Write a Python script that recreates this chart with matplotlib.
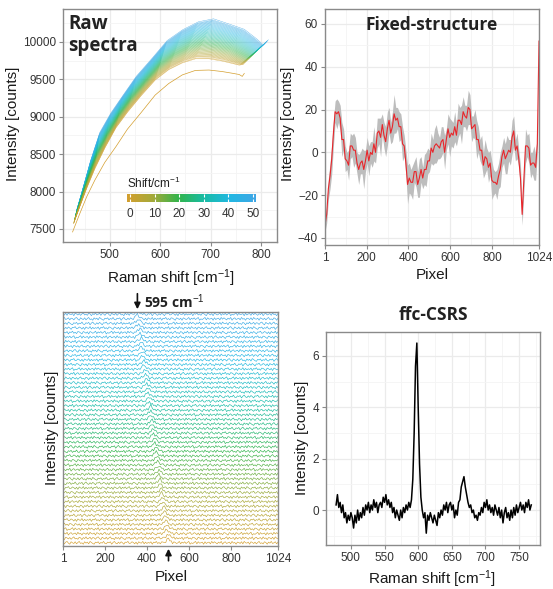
import numpy as np
import matplotlib
matplotlib.use('Agg')
import matplotlib.pyplot as plt
from matplotlib.colors import LinearSegmentedColormap
from matplotlib.ticker import MultipleLocator, FixedLocator

plt.rcParams['font.family'] = ['Liberation Sans', 'DejaVu Sans']
plt.rcParams['mathtext.fontset'] = 'custom'
plt.rcParams['mathtext.rm'] = 'Liberation Sans'
plt.rcParams['mathtext.it'] = 'Liberation Sans:italic'
plt.rcParams['mathtext.bf'] = 'Liberation Sans:bold'

# ---------------- data ----------------
# shift steps (cm-1) of the raw spectra
shifts = list(range(0, 51))

# raw spectrum for shift 0 (the separated lowest trace)
raw0_x = [426, 440, 454, 470, 490, 512, 535, 562, 590, 617, 644, 670, 697, 723, 745, 757, 763, 767]
raw0_y = [7460, 7700, 7930, 8150, 8390, 8600, 8835, 9055, 9290, 9445, 9560, 9620, 9625, 9605, 9580, 9565, 9540, 9580]

# lower and upper edge of the bundle (shift 1 and shift 50)
raw_lo_x = [428, 440, 454, 470, 490, 512, 535, 562, 590, 617, 644, 670, 697, 723, 745, 757, 765]
raw_lo_y = [7570, 7790, 8040, 8300, 8580, 8850, 9060, 9280, 9490, 9630, 9720, 9775, 9775, 9745, 9710, 9690, 9700]
raw_hi_x = [435, 448, 462, 480, 502, 527, 553, 583, 614, 645, 676, 706, 737, 767, 792, 805, 815]
raw_hi_y = [7770, 8080, 8420, 8790, 9050, 9295, 9545, 9775, 10020, 10165, 10270, 10310, 10240, 10170, 10040, 9960, 10030]
# position of each trace (shift 1..50) inside the bundle
raw_pos = [0.00, 0.02, 0.05, 0.07, 0.09, 0.11, 0.13, 0.15, 0.17, 0.19,
           0.21, 0.23, 0.25, 0.27, 0.29, 0.31, 0.33, 0.35, 0.37, 0.39,
           0.41, 0.43, 0.45, 0.47, 0.49, 0.51, 0.53, 0.55, 0.57, 0.59,
           0.61, 0.63, 0.65, 0.67, 0.69, 0.71, 0.73, 0.75, 0.77, 0.79,
           0.81, 0.83, 0.85, 0.87, 0.89, 0.91, 0.93, 0.95, 0.97, 1.00]

# fixed-structure estimate (red) and spread of the gray band, 128 pixels
fixed_red = [-34, -29, -17, -11, -3, 9, 19, 18, 19, 16, 6, 6, -3, -4, -6, 3,
             3, 1, 1, -5, -8, -5, -4, -8, -4, 1, -4, 0, -1, 4, 0, 9,
             10, 7, 13, 8, 5, 11, 15, 9, 12, 18, 15, 16, 12, 12, 4, 3,
             -5, -15, -12, -14, -14, -9, -9, -15, -12, -8, -12, -8, -8, -4, -4, 2,
             0, 3, 4, 3, 2, 5, 6, 0, 6, 11, 7, 9, 8, 12, 8, 15,
             15, 13, 19, 17, 16, 21, 20, 11, 12, 13, 6, 6, 1, 1, -6, -2,
             -3, -7, -5, -13, -14, -14, -15, -11, -8, -2, 1, -3, -1, 1, 0, 7,
             10, 1, 3, -3, -12, -29, -13, 3, 3, 2, -6, -5, -5, -7, 4, 52]
fixed_spread = [3, 4, 5, 6, 7, 6, 5, 7, 5, 6, 8, 5, 6, 4, 7, 6,
                5, 8, 6, 5, 7, 5, 6, 9, 5, 6, 7, 5, 6, 8, 5, 7,
                6, 9, 5, 6, 7, 8, 6, 5, 7, 9, 6, 5, 7, 6, 8, 5,
                6, 9, 7, 6, 8, 5, 7, 6, 9, 6, 5, 7, 8, 6, 5, 7,
                6, 8, 9, 6, 5, 7, 6, 8, 5, 7, 9, 6, 6, 7, 5, 8,
                6, 9, 7, 5, 6, 8, 7, 6, 5, 7, 9, 6, 5, 7, 6, 8,
                5, 7, 6, 9, 6, 5, 7, 6, 8, 5, 6, 7, 9, 5, 6, 8,
                7, 5, 6, 4, 6, 5, 6, 8, 5, 7, 6, 5, 8, 6, 5, 6]

# ffc-CSRS spectrum, 478..768 cm-1 every 2 cm-1
ffc_x = list(range(478, 769, 2))
ffc_y = [0.2, 0.6, 0.1, 0.3, -0.1, 0.2, -0.3, -0.1, -0.5, -0.2,
         -0.4, -0.1, -0.3, -0.7, -0.2, -0.5, 0.0, -0.4, -0.1, -0.3,
         0.1, -0.2, 0.2, 0.0, 0.3, -0.1, 0.2, 0.0, 0.4, 0.1,
         0.3, -0.1, 0.2, 0.3, 0.1, 0.5, 0.3, 0.6, 0.2, 0.4,
         0.1, 0.3, -0.1, 0.1, -0.3, 0.0, -0.2, -0.4, 0.0, -0.3,
         0.1, -0.1, 0.2, 0.0, 0.3, 0.1, 0.4, 1.2, 3.0, 5.6,
         6.5, 4.0, 1.8, 0.5, 0.0, -0.3, -0.1, -0.9, -0.2, -0.4,
         -0.1, -0.3, -0.5, -0.2, -0.4, -0.6, -0.1, -0.3, 0.0, -0.2,
         0.2, 0.0, 0.3, -0.1, 0.2, 0.3, 0.0, 0.2, -0.3, 0.0,
         -0.2, 0.3, 0.4, 0.9, 1.1, 1.3, 0.9, 0.6, 0.3, 0.1,
         0.2, -0.1, 0.0, -0.3, -0.2, -0.4, -0.1, -0.2, 0.1, -0.1,
         0.3, 0.1, 0.4, 0.0, 0.2, -0.1, 0.1, -0.2, 0.2, 0.0,
         -0.2, 0.1, -0.3, 0.0, -0.5, -0.1, 0.1, -0.3, -0.1, -0.4,
         0.0, -0.3, 0.1, -0.2, 0.2, -0.1, 0.1, 0.3, 0.0, 0.2,
         -0.1, 0.3, 0.1, 0.4, 0.0, 0.2]

# waterfall: residual noise per pixel (160 samples) and the 595 band profile
wf_noise = [0.1, -0.3, 0.2, 0.4, -0.1, -0.4, 0.3, 0.0, -0.2, 0.3, -0.3, 0.1, 0.4, -0.2, 0.0, -0.4,
            0.3, -0.1, 0.2, -0.3, 0.4, 0.1, -0.2, -0.4, 0.2, 0.0, 0.3, -0.3, 0.1, -0.1, 0.4, -0.2,
            -0.3, 0.2, 0.0, 0.3, -0.4, 0.1, 0.4, -0.1, -0.3, 0.2, -0.2, 0.3, 0.0, -0.4, 0.2, 0.1,
            0.4, -0.2, -0.1, 0.3, 0.1, -0.3, 0.2, -0.4, 0.3, 0.0, -0.1, 0.4, -0.3, 0.2, -0.2, 0.1,
            -0.1, 0.3, -0.4, 0.2, 0.0, 0.4, -0.2, 0.1, -0.3, 0.3, 0.2, -0.1, -0.4, 0.3, 0.1, -0.2,
            0.2, -0.4, 0.3, 0.1, -0.2, 0.0, 0.4, -0.3, 0.2, -0.1, 0.3, -0.2, 0.1, 0.4, -0.4, 0.0,
            -0.2, 0.1, 0.4, -0.3, 0.3, -0.1, 0.0, 0.2, -0.4, 0.3, -0.2, 0.1, 0.2, -0.3, 0.4, -0.1,
            0.3, 0.0, -0.3, 0.2, -0.1, 0.4, -0.4, 0.1, 0.3, -0.2, 0.0, 0.2, -0.3, 0.4, -0.1, 0.1,
            -0.4, 0.2, 0.1, -0.2, 0.3, -0.3, 0.4, 0.0, -0.1, 0.2, -0.4, 0.3, 0.1, -0.2, 0.2, -0.3,
            0.1, 0.4, -0.2, 0.0, -0.3, 0.3, 0.1, -0.4, 0.2, -0.1, 0.4, -0.2, 0.0, 0.3, -0.3, 0.2]
wf_peak = [0.15, 0.35, 0.7, 0.95, 0.55, 0.3, 0.1]
wf_scale = 0.75              # noise amplitude relative to trace spacing
peak_pixel_s0 = 503          # pixel of the 595 band at shift 0
pixel_per_cm = 1023 / 341.0  # detector dispersion

shift_colors = ['#D49F2F', '#A4AA3A', '#31B44B', '#18BCA6', '#22B8E3', '#3FA6E6']
cmap = LinearSegmentedColormap.from_list('shift', shift_colors)

# ---------------- figure ----------------
W, H = 553, 589
fig = plt.figure(figsize=(W / 100, H / 100), dpi=100)


def box(l, t, r, b):
    return [l / W, 1 - b / H, (r - l) / W, (b - t) / H]


def style(ax, grid=True):
    for sp in ax.spines.values():
        sp.set_color('#8A8A8A')
        sp.set_linewidth(1.0)
    ax.tick_params(which='major', direction='out', length=3, width=0.8,
                   color='#8A8A8A', labelsize=8.5, labelcolor='#333333', pad=2)
    ax.tick_params(which='minor', length=0)
    if grid:
        ax.grid(which='major', color='#EBEBEB', lw=0.9)
        ax.grid(which='minor', color='#F4F4F4', lw=0.6)
        ax.set_axisbelow(True)


def fx(x, y, s, **kw):
    fig.text(x / W, 1 - y / H, s, **kw)


lab = dict(fontsize=11, color='#1A1A1A', ha='center', va='center')
bold = dict(fontweight='bold', family=['Open Sans', 'DejaVu Sans'], color='#222222')

# --- Raw spectra ---
ax1 = fig.add_axes(box(63, 9, 277, 242))
style(ax1)
lo_x, lo_y = np.array(raw_lo_x), np.array(raw_lo_y)
hi_x, hi_y = np.array(raw_hi_x), np.array(raw_hi_y)
for s in shifts[:0:-1]:
    p = raw_pos[s - 1]
    ax1.plot(lo_x + p * (hi_x - lo_x), lo_y + p * (hi_y - lo_y),
             color=cmap(s / 50), lw=0.3, alpha=0.85)
ax1.plot(raw0_x, raw0_y, color=cmap(0.0), lw=0.5)
ax1.set_xlim(407, 832)
ax1.set_ylim(7326, 10441)
ax1.xaxis.set_major_locator(FixedLocator([500, 600, 700, 800]))
ax1.xaxis.set_minor_locator(MultipleLocator(50))
ax1.yaxis.set_major_locator(MultipleLocator(500))
ax1.yaxis.set_minor_locator(MultipleLocator(250))
fx(68, 35, 'Raw\nspectra', fontsize=13.5, ha='left', va='center', linespacing=1.15, **bold)
fx(13, 124, 'Intensity [counts]', rotation=90, **lab)
fx(171, 278, r'Raman shift [cm$^{-1}$]', **lab)

# colourbar legend
cax = fig.add_axes(box(127, 194, 256, 202))
cax.imshow(np.linspace(0, 50, 256).reshape(1, -1), cmap=cmap, aspect='auto',
           extent=[-1.2, 51.2, 0, 1], vmin=0, vmax=50)
for sp in cax.spines.values():
    sp.set_visible(False)
cax.set_yticks([])
cax.set_xticks([0, 10, 20, 30, 40, 50])
cax.tick_params(axis='x', direction='in', top=True, bottom=True, length=2, width=0.8,
                color='white', labelsize=8.5, labelcolor='#333333', pad=4)
fx(127, 183, r'Shift/cm$^{-1}$', fontsize=8.5, color='#222222', ha='left', va='center')

# --- Fixed-structure ---
ax2 = fig.add_axes(box(325, 9, 539, 245))
style(ax2)
pix = np.linspace(1, 1024, len(fixed_red))
red = np.array(fixed_red, dtype=float)
spread = np.array(fixed_spread, dtype=float)
ax2.fill_between(pix, red - spread, red + spread, color='#BDBDBD', lw=0)
ax2.plot(pix, red, color='#E8262B', lw=0.8)
ax2.set_xlim(1, 1024)
ax2.set_ylim(-43.3, 67)
ax2.xaxis.set_major_locator(FixedLocator([1, 200, 400, 600, 800, 1024]))
ax2.xaxis.set_minor_locator(FixedLocator([100, 300, 500, 700, 900]))
ax2.yaxis.set_major_locator(MultipleLocator(20))
ax2.yaxis.set_minor_locator(MultipleLocator(10))
fx(432, 25, 'Fixed-structure', fontsize=12.5, ha='center', va='center', **bold)
fx(288, 124, 'Intensity [counts]', rotation=90, **lab)
fx(432, 275, 'Pixel', **lab)

# --- waterfall ---
ax3 = fig.add_axes(box(63, 312, 278, 546))
style(ax3, grid=False)
wf_pix = np.linspace(1, 1024, len(wf_noise))
noise = np.array(wf_noise) * wf_scale
for s in shifts:
    row = np.roll(noise, s * 23).copy()
    centre = peak_pixel_s0 - s * pixel_per_cm
    k = int(np.argmin(np.abs(wf_pix - centre)))
    row[k - 3:k + 4] += np.array(wf_peak)
    ax3.plot(wf_pix, row + s, color=cmap(s / 50), lw=0.45)
ax3.set_xlim(1, 1024)
ax3.set_ylim(-0.7, 50.5)
ax3.set_yticks([])
ax3.xaxis.set_major_locator(FixedLocator([1, 200, 400, 600, 800, 1024]))
ax3.annotate('', xy=(355, 1.0), xytext=(355, 1.09), xycoords=('data', 'axes fraction'),
             arrowprops=dict(arrowstyle='-|>', color='#111111', lw=1.2, mutation_scale=9),
             annotation_clip=False)
ax3.annotate('', xy=(503, 0.0), xytext=(503, -0.075), xycoords=('data', 'axes fraction'),
             arrowprops=dict(arrowstyle='-|>', color='#111111', lw=1.2, mutation_scale=9),
             annotation_clip=False)
fx(144, 302, r'595 cm$^{-1}$', fontsize=10, ha='left', va='center', **bold)
fx(52, 428, 'Intensity [counts]', rotation=90, **lab)
fx(171, 577, 'Pixel', **lab)

# --- ffc-CSRS ---
ax4 = fig.add_axes(box(326, 332, 540, 545))
style(ax4)
ax4.plot(ffc_x, ffc_y, color='black', lw=1.1)
ax4.set_xlim(463, 781)
ax4.set_ylim(-1.36, 6.93)
ax4.xaxis.set_major_locator(MultipleLocator(50))
ax4.xaxis.set_minor_locator(MultipleLocator(25))
ax4.yaxis.set_major_locator(MultipleLocator(2))
ax4.yaxis.set_minor_locator(MultipleLocator(1))
fx(433, 315, 'ffc-CSRS', fontsize=12.5, ha='center', va='center', **bold)
fx(302, 438, 'Intensity [counts]', rotation=90, **lab)
fx(432, 579, r'Raman shift [cm$^{-1}$]', **lab)

fig.savefig('out.png', dpi=100)
